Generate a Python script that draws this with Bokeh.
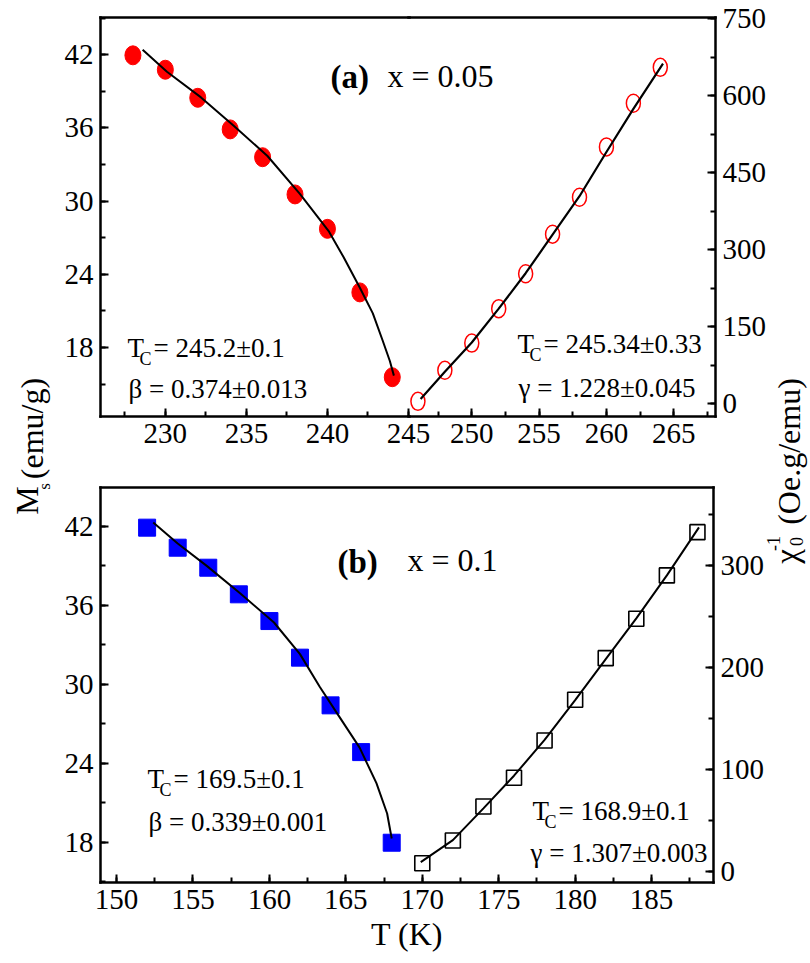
import math
from bokeh.plotting import figure
from bokeh.models import Range1d, LinearAxis, SingleIntervalTicker, FixedTicker, Label
from bokeh.embed import file_html
from bokeh.resources import INLINE

# ---------------- data ----------------
# panel (a) x = 0.05 : spontaneous magnetisation Ms (emu/g) below Tc
t_ms_a = [228, 230, 232, 234, 236, 238, 240, 242, 244]
ms_a = [41.95, 40.77, 38.47, 35.88, 33.6, 30.55, 27.73, 22.52, 15.57]
t_fit_ms_a = [228.6, 230.1, 232.2, 234.2, 236.3, 238.3, 240.1, 241.0, 242.0, 242.8, 243.4, 243.85, 244.1]
fit_ms_a = [42.4, 40.6, 38.5, 36.2, 33.7, 30.6, 27.5, 25.4, 22.9, 20.8, 18.6, 16.9, 15.7]
# panel (a): inverse susceptibility above Tc
t_chi_a = [246, 248, 250, 252, 254, 256, 258, 260, 262, 264]
chi_a = [4.5, 65, 118, 185, 253, 330, 402, 500, 585, 655]
t_fit_chi_a = [246.2, 248, 250, 252, 254, 256, 258, 260, 262, 264.2]
fit_chi_a = [9, 62, 119, 185, 254, 329, 404, 490, 574, 662]

# panel (b) x = 0.1
t_ms_b = [152, 154, 156, 158, 160, 162, 164, 166, 168]
ms_b = [41.9, 40.38, 38.86, 36.84, 34.81, 32.03, 28.41, 24.86, 17.98]
t_fit_ms_b = [152.4, 154.0, 155.9, 158.1, 160.3, 162.0, 163.3, 164.6, 165.9, 167.0, 167.7, 168.0]
fit_ms_b = [42.3, 40.7, 39.0, 36.9, 34.7, 32.3, 29.8, 27.5, 25.2, 22.5, 20.2, 18.3]
t_chi_b = [170, 172, 174, 176, 178, 180, 182, 184, 186, 188]
chi_b = [8.4, 30.6, 63.9, 92, 128.5, 168.3, 209, 247.6, 290, 332.3]
t_fit_chi_b = [169.9, 172, 174, 176, 178, 180, 182, 184, 186, 188.1]
fit_chi_b = [9.4, 31, 62, 94, 129, 168, 208, 248, 290, 337]

# axis limits of the four sub-panels
lim_t_a_left = (226.0, 245.05)
lim_t_a_right = (245.3, 268.1)
lim_ms_a = (12.35, 45.05)
lim_chi_a = (-25.0, 752.0)
lim_t_b = (148.95, 189.05)
lim_ms_b = (14.96, 44.95)
lim_chi_b = (-10.5, 376.0)

# ---------------- layout (page pixels) ----------------
# the plot frame covers the whole canvas; the panel boxes are drawn by axes
W, H = 808, 960
FL, FR, FT, FB = 0, W, 0, H


def xr(lim, p0, p1):
    d0, d1 = lim
    s = (d1 - d0) / (p1 - p0)
    return Range1d(d0 + (FL - p0) * s, d0 + (FR - p0) * s)


def yr(lim, p0, p1):
    d0, d1 = lim
    s = (d1 - d0) / (p0 - p1)
    return Range1d(d0 - (FB - p0) * s, d1 + (p1 - FT) * s)


x_c = xr(lim_t_b, 100, 713)
y_c = yr(lim_ms_b, 882, 487)
x_a = xr(lim_t_a_left, 100, 408.8)
x_b = xr(lim_t_a_right, 408, 715)
y_a = yr(lim_ms_a, 416, 17)
y_b = yr(lim_chi_a, 416, 17)
y_d = yr(lim_chi_b, 882, 487)

p = figure(width=W, height=H, x_range=x_c, y_range=y_c,
           x_axis_type=None, y_axis_type=None,
           toolbar_location=None, output_backend="svg",
           min_border=0, min_border_left=0, min_border_right=0,
           min_border_top=0, min_border_bottom=0,
           outline_line_color=None, background_fill_color="white",
           border_fill_color="white")
p.extra_x_ranges = {"xa": x_a, "xb": x_b}
p.extra_y_ranges = {"ya": y_a, "yb": y_b, "yd": y_d}

FONT = "Liberation Serif"


def add_axis(side, xname, yname, loc, bounds, ticker, label=None):
    ax = LinearAxis(x_range_name=xname, y_range_name=yname,
                    fixed_location=loc, bounds=bounds, ticker=ticker)
    ax.axis_line_width = 2.5
    ax.axis_line_color = "black"
    ax.axis_line_cap = "square"
    ax.major_tick_in = 8
    ax.major_tick_out = 0
    ax.minor_tick_in = 5
    ax.minor_tick_out = 0
    ax.major_tick_line_width = 2
    ax.minor_tick_line_width = 2
    ax.major_tick_line_color = "black"
    ax.minor_tick_line_color = "black"
    ax.major_label_text_font = FONT
    ax.major_label_text_font_size = "29px"
    ax.major_label_text_color = "black"
    ax.major_label_standoff = 7
    if label:
        ax.axis_label = label
        ax.axis_label_text_font = FONT
        ax.axis_label_text_font_size = "32px"
        ax.axis_label_text_font_style = "normal"
        ax.axis_label_text_color = "black"
        ax.axis_label_standoff = 4
    p.add_layout(ax, side)
    return ax


def no_ticks():
    return FixedTicker(ticks=[], minor_ticks=[])


# panel (a) frame and axes
add_axis("left", "xa", "ya", lim_t_a_left[0], lim_ms_a, SingleIntervalTicker(interval=6, num_minor_ticks=2))
add_axis("right", "xb", "yb", lim_t_a_right[1], lim_chi_a, SingleIntervalTicker(interval=150, num_minor_ticks=2))
add_axis("below", "xa", "ya", lim_ms_a[0], lim_t_a_left, SingleIntervalTicker(interval=5, num_minor_ticks=2))
add_axis("below", "xb", "yb", lim_chi_a[0], lim_t_a_right, SingleIntervalTicker(interval=5, num_minor_ticks=2))
add_axis("above", "xa", "ya", lim_ms_a[1], lim_t_a_left, no_ticks())
add_axis("above", "xb", "ya", lim_ms_a[1], lim_t_a_right, no_ticks())

# panel (b) frame and axes
add_axis("left", "default", "default", lim_t_b[0], lim_ms_b, SingleIntervalTicker(interval=6, num_minor_ticks=2))
add_axis("right", "default", "yd", lim_t_b[1], lim_chi_b, SingleIntervalTicker(interval=100, num_minor_ticks=2))
add_axis("below", "default", "default", lim_ms_b[0], lim_t_b, SingleIntervalTicker(interval=5, num_minor_ticks=2), label="T (K)")
add_axis("above", "default", "default", lim_ms_b[1], lim_t_b, no_ticks())

# ---------------- marks ----------------
RED = "#ff0000"
BLUE = "#0000ff"
p.ellipse(t_ms_a, ms_a, width=16, height=19, width_units="screen", height_units="screen",
          fill_color=RED, line_color=RED, x_range_name="xa", y_range_name="ya")
p.line(t_fit_ms_a, fit_ms_a, line_color="black", line_width=2, x_range_name="xa", y_range_name="ya")
p.ellipse(t_chi_a, chi_a, width=14, height=18, width_units="screen", height_units="screen",
          fill_color=None, line_color=RED, line_width=1.5, x_range_name="xb", y_range_name="yb")
p.line(t_fit_chi_a, fit_chi_a, line_color="black", line_width=2.2, x_range_name="xb", y_range_name="yb")

p.scatter(t_ms_b, ms_b, marker="square", size=17, fill_color=BLUE, line_color=BLUE)
p.line(t_fit_ms_b, fit_ms_b, line_color="black", line_width=2)
p.scatter(t_chi_b, chi_b, marker="square", size=15, fill_color=None, line_color="black",
          line_width=1.6, y_range_name="yd")
p.line(t_fit_chi_b, fit_chi_b, line_color="black", line_width=2, y_range_name="yd")

# ---------------- texts ----------------
def px2x(px):
    return x_c.start + (px - FL) * (x_c.end - x_c.start) / (FR - FL)


def py2y(py):
    return y_c.start + (FB - py) * (y_c.end - y_c.start) / (FB - FT)


def txt(s, px, py, size, bold=False):
    p.add_layout(Label(x=px2x(px), y=py2y(py), text=s, text_font=FONT,
                       text_font_size=f"{size}px",
                       text_font_style="bold" if bold else "normal",
                       text_color="black", text_align="left",
                       text_baseline="alphabetic"))


def vtxt(s, cx, cy, size):
    # vertical text (reading upwards), centred on (cx, cy)
    p.add_layout(Label(x=px2x(cx), y=py2y(cy), text=s, text_font=FONT,
                       text_font_size=f"{size}px", text_color="black",
                       text_align="center", text_baseline="middle",
                       angle=math.pi / 2))


def tc_line(value, px, py):
    txt("T", px, py, 27)
    txt("C", px + 12, py + 11, 18)
    txt("= " + value, px + 26, py, 27)


txt("(a)", 330, 76, 33, bold=True)
txt("x = 0.05", 387, 75, 32)
txt("(b)", 337, 561, 33, bold=True)
txt("x = 0.1", 407, 559, 32)

tc_line("245.2\u00b10.1", 127, 347)
txt("\u03b2 = 0.374\u00b10.013", 128, 388, 27)
tc_line("245.34\u00b10.33", 517, 343)
txt("\u03b3 = 1.228\u00b10.045", 518, 387, 27)
tc_line("169.5\u00b10.1", 147, 778)
txt("\u03b2 = 0.339\u00b10.001", 148, 821, 27)
tc_line("168.9\u00b10.1", 532, 810)
txt("\u03b3 = 1.307\u00b10.003", 530, 852, 27)

# rotated y-axis titles
vtxt("M", 26, 500, 32)
vtxt("s", 44, 486, 17)
vtxt("(emu/g)", 31, 428, 32)

vtxt("\u03c7", 786, 556, 33)
vtxt("0", 796, 541, 18)
vtxt("-1", 773, 543, 18)
vtxt("(Oe.g/emu)", 788, 451, 32)

open("out.html", "w").write(file_html(p, INLINE))
